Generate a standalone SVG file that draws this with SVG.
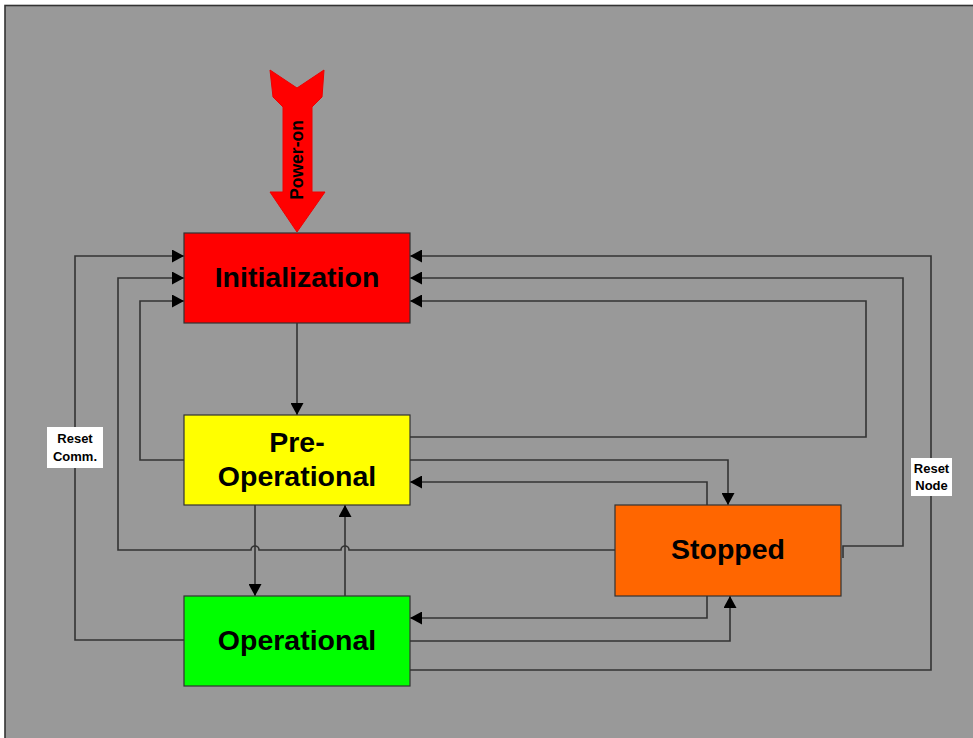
<svg xmlns="http://www.w3.org/2000/svg" width="973" height="738" viewBox="0 0 973 738">
<defs>
<marker id="ah" markerUnits="userSpaceOnUse" markerWidth="13" markerHeight="13" refX="12" refY="6.5" orient="auto">
<path d="M0,0 L12,6.5 L0,13 z" fill="#000"/>
</marker>
<style>
.node rect{stroke:#333;stroke-width:1.2}
.nt{font-family:"Liberation Sans",Arial,sans-serif;font-weight:bold;font-size:28.5px;fill:#000;text-anchor:middle}
.lb{font-family:"Liberation Sans",Arial,sans-serif;font-weight:bold;font-size:13px;fill:#000;text-anchor:middle}
#connectors path{fill:none;stroke:#333;stroke-width:1.6}
.arr{marker-end:url(#ah)}
</style>
</defs>
<rect x="5" y="5.5" width="980" height="745" fill="#999999" stroke="#333" stroke-width="1.6"/>

<g id="power-on">
<polygon points="270,70 297,88 324,70 322,97 312,107 312,192 325,192 297,232 270,192 283,192 283,107 273,97" fill="#FF0000" stroke="#ee0000" stroke-width="1"/>
<text class="nt" style="font-size:17.5px" transform="translate(303,160) rotate(-90)">Power-on</text>
</g>

<g id="connectors">
<path class="arr" d="M297,323 V415"/>
<path class="arr" d="M184,460 H140 V301 H184"/>
<path class="arr" d="M615,550 H349 A4,4 0 0 0 341,550 H259 A4,4 0 0 0 251,550 H118 V278 H184"/>
<path class="arr" d="M184,640 H75 V256 H184"/>
<path class="arr" d="M410,437 H866 V301 H410"/>
<path class="arr" d="M843,558 V546 H903 V278 H410"/>
<path class="arr" d="M410,670 H931 V256 H410"/>
<path class="arr" d="M410,460 H728 V505"/>
<path class="arr" d="M707,505 V482 H410"/>
<path class="arr" d="M255,505 V596"/>
<path class="arr" d="M345,596 V505"/>
<path class="arr" d="M707,596 V618 H410"/>
<path class="arr" d="M410,641 H730 V596"/>
</g>

<g id="label-reset-comm">
<rect x="47" y="427" width="56" height="41" fill="#fff"/>
<text class="lb" x="75" y="443">Reset</text>
<text class="lb" x="75" y="461">Comm.</text>
</g>
<g id="label-reset-node">
<rect x="911" y="458" width="41" height="38" fill="#fff"/>
<text class="lb" x="931.5" y="473">Reset</text>
<text class="lb" x="931.5" y="490">Node</text>
</g>

<g id="initialization" class="node">
<rect x="184" y="233" width="226" height="90" fill="#FF0000"/>
<text class="nt" x="297" y="287">Initialization</text>
</g>
<g id="pre-operational" class="node">
<rect x="184" y="415" width="226" height="90" fill="#FFFF00"/>
<text class="nt" x="297" y="452">Pre-</text>
<text class="nt" x="297" y="486">Operational</text>
</g>
<g id="stopped" class="node">
<rect x="615" y="505" width="226" height="91" fill="#FF6600"/>
<text class="nt" x="728" y="559">Stopped</text>
</g>
<g id="operational" class="node">
<rect x="184" y="596" width="226" height="90" fill="#00FF00"/>
<text class="nt" x="297" y="650">Operational</text>
</g>
</svg>
